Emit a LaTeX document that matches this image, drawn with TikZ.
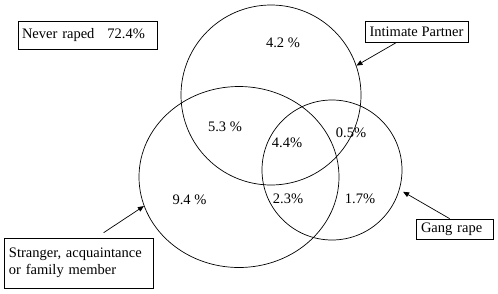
\documentclass[tikz,border=0pt]{standalone}
\usepackage{fontspec}
\setmainfont{Liberation Serif}
\usepackage{tikz}
\usetikzlibrary{arrows.meta, positioning, calc, shapes.geometric}

\begin{document}
\begin{tikzpicture}[x=1pt, y=-1pt, font=\fontsize{14.5}{17}\selectfont,
    ring/.style={draw, line width=0.7pt, inner sep=0pt},
    labelbox/.style={draw, line width=0.7pt, inner sep=0pt},
    pointer/.style={-{Triangle[length=6pt, width=5pt]}, line width=0.7pt}]
        \useasboundingbox (0,0) rectangle (498,293);
        % the three groups
        \node[ring, circle, minimum size=180pt] (partner) at (271,95) {};
        \node[ring, ellipse, minimum width=200pt, minimum height=181pt] (stranger) at (239,177) {};
        \node[ring, circle, minimum size=140pt] (gang) at (332,170) {};
        \foreach \px/\py/\val [count=\i] in {
            283/43/{4.2 \%},
            225/127/{5.3 \%},
            287/143/{4.4\%},
            351/133/{0.5\%},
            288/199/{2.3\%},
            360/199/{1.7\%},
            189.5/200/{9.4 \%}}
        {
            \node (share\i) at (\px,\py) {\val};
        }
        % labels
        \node[labelbox, minimum width=139pt, minimum height=28pt, text width=131pt, align=left] (neverbox) at (87.5,35) {Never raped\hspace{13pt}72.4\%};
        \node[labelbox, minimum width=103pt, minimum height=21pt] (partnerbox) at (416.5,31.5) {Intimate Partner};
        \node[labelbox, minimum width=149pt, minimum height=50pt, text width=139pt, align=left] (strangerbox) at (78.5,263) {Stranger, acquaintance\\or family member};
        \node[labelbox, minimum width=77pt, minimum height=20pt, text width=67pt, align=left] (gangbox) at (454.5,229) {Gang rape};
        % pointers
        \draw[pointer] ([xshift=32pt]partnerbox.south west) -- (partner.19);
        \draw[pointer] ([xshift=100pt, yshift=5pt]strangerbox.north west) -- (stranger.197);
        \draw[pointer] ([xshift=34pt]gangbox.north west) -- ([shift={(-17:4pt)}]gang.-17);
\end{tikzpicture}
\end{document}
